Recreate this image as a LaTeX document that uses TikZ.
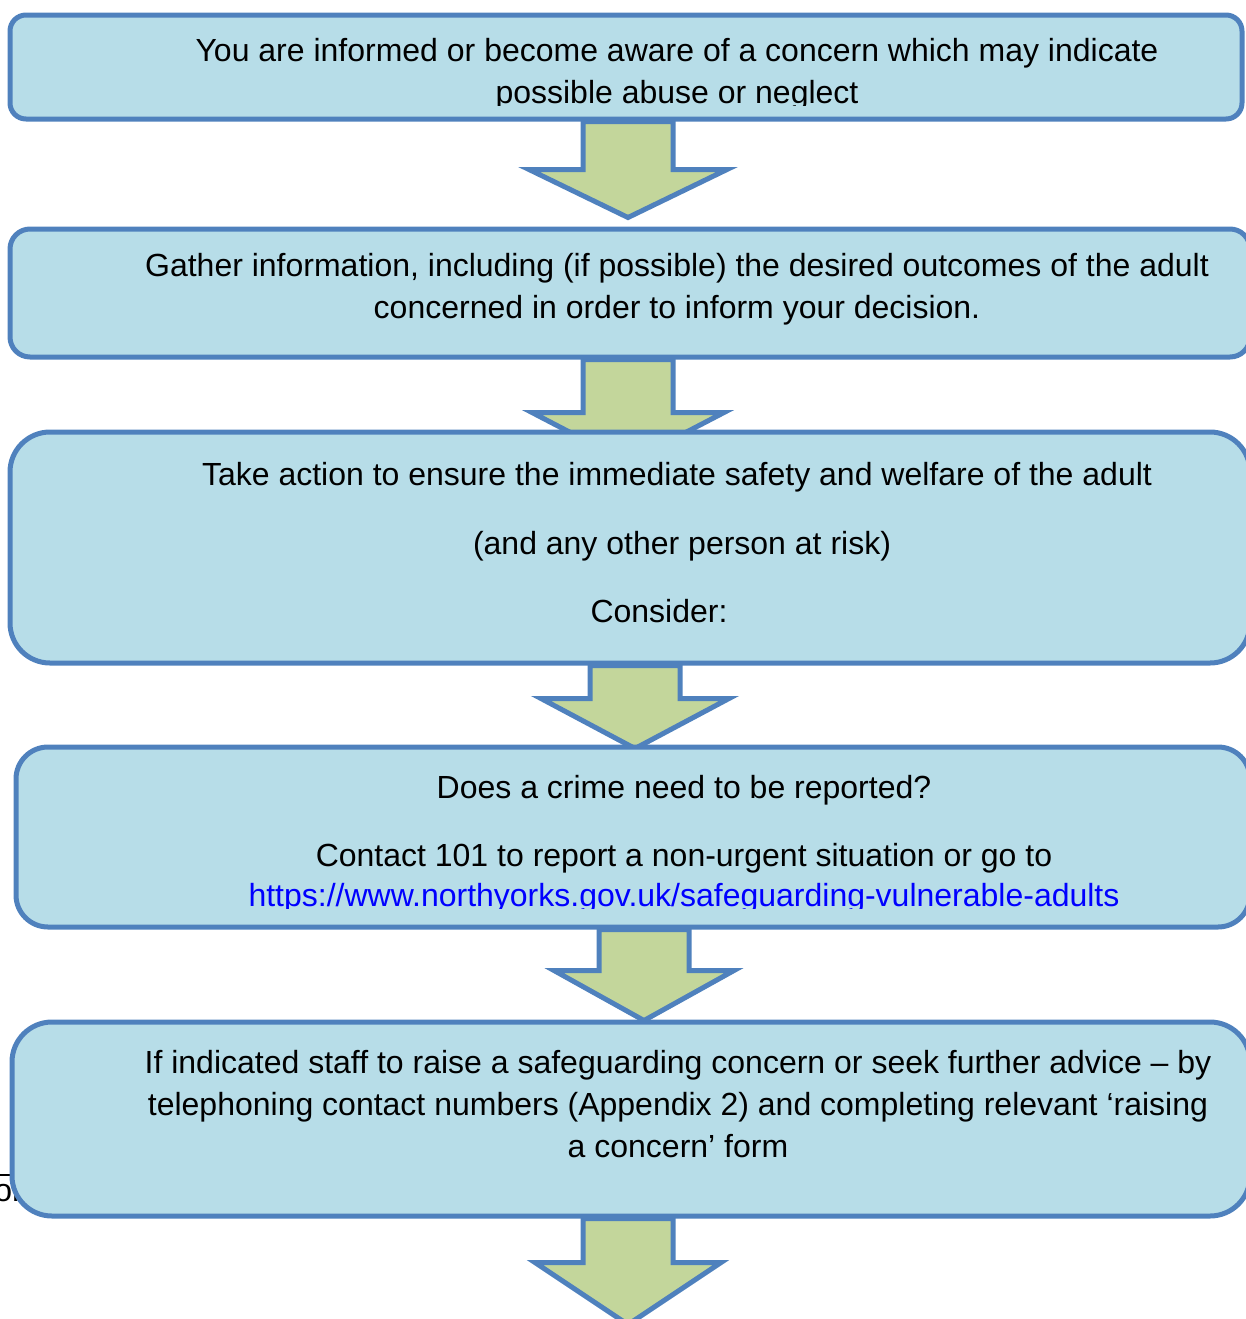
\documentclass[tikz,border=0pt]{standalone}
\usepackage{fontspec}
\setmainfont{Liberation Sans}
\usetikzlibrary{calc, fit}

\definecolor{boxfill}{HTML}{B7DDE8}
\definecolor{boxline}{HTML}{4F81BD}
\definecolor{arrowfill}{HTML}{C3D69B}
\definecolor{linkblue}{HTML}{0000FF}

\tikzset{
  stagebox/.style={draw=boxline, line width=2.5pt, fill=boxfill, inner sep=0pt},
  greenarrow/.style={draw=boxline, line width=2.5pt, fill=arrowfill},
  txt/.style={font=\fontsize{16}{21}\selectfont, align=center, inner sep=0pt},
}

% block arrow hanging under a box: #1 box, #2 x shift, #3 shaft, #4 head, #5 head overhang
\newcommand{\flowarrow}[5]{%
  \draw[greenarrow] ($(#1.south)+(#2,0)$) ++(-45,0) -- ++(0,#3) -- ++(-#5,0)
    -- ++(45+#5,#4) -- ++(45+#5,-#4) -- ++(-#5,0) -- ++(0,-#3) -- cycle;}

\begin{document}
\begin{tikzpicture}[x=0.5pt, y=-0.5pt]
\clip (0,0) rectangle (1246,1319);

% step 1
\node[stagebox, rounded corners=8pt, fit={(10,15) (1242,119)}] (b1) {};
\begin{scope}
  \clip (0,0) rectangle (1246,105);
  \node[txt, anchor=base] (t1) at (677,103)
    {You are informed or become aware of a concern which may indicate\\possible abuse or neglect};
\end{scope}
\flowarrow{b1}{2}{48}{48}{54}

% step 2
\node[stagebox, rounded corners=10pt, fit={(10,229) (1250,357)}] (b2) {};
\node[txt, anchor=base] (t2) at (677,318)
  {Gather information, including (if possible) the desired outcomes of the adult\\concerned in order to inform your decision.};
\flowarrow{b2}{-2}{53}{50}{51}

% step 3
\node[stagebox, rounded corners=20pt, fit={(10,432) (1250,663)}] (b3) {};
\node[txt, anchor=base] (t3a) at (677,485) {Take action to ensure the immediate safety and welfare of the adult};
\node[txt, anchor=base] (t3b) at (682,554) {(and any other person at risk)};
\node[txt, anchor=base] (t3c) at (659,622) {Consider:};
\flowarrow{b3}{5}{33}{50}{49}

% step 4
\node[stagebox, rounded corners=16pt, fit={(16,747) (1250,927)}] (b4) {};
\node[txt, anchor=base] (t4a) at (684,798) {Does a crime need to be reported?};
\node[txt, anchor=base] (t4b) at (684,866) {Contact 101 to report a non-urgent situation or go to};
\begin{scope}
  \clip (0,880) rectangle (1246,908);
  \node[txt, anchor=base, text=linkblue] (t4c) at (684,906) {https://www.northyorks.gov.uk/safeguarding-vulnerable-adults};
\end{scope}
\flowarrow{b4}{11}{41}{50}{45}

% footnote fragment at the margin
\draw[line width=0.7pt] (0,1175) -- (14,1175);
\node[txt, anchor=base west] (frag) at (-6,1201) {or};

% step 5
\node[stagebox, rounded corners=20pt, fit={(12,1022) (1250,1216)}] (b5) {};
\node[txt, anchor=base] (t5) at (678,1157)
  {If indicated staff to raise a safeguarding concern or seek further advice -- by\\telephoning contact numbers (Appendix 2) and completing relevant `raising\\a concern' form};
\flowarrow{b5}{-3}{44}{62}{48}

\end{tikzpicture}
\end{document}
